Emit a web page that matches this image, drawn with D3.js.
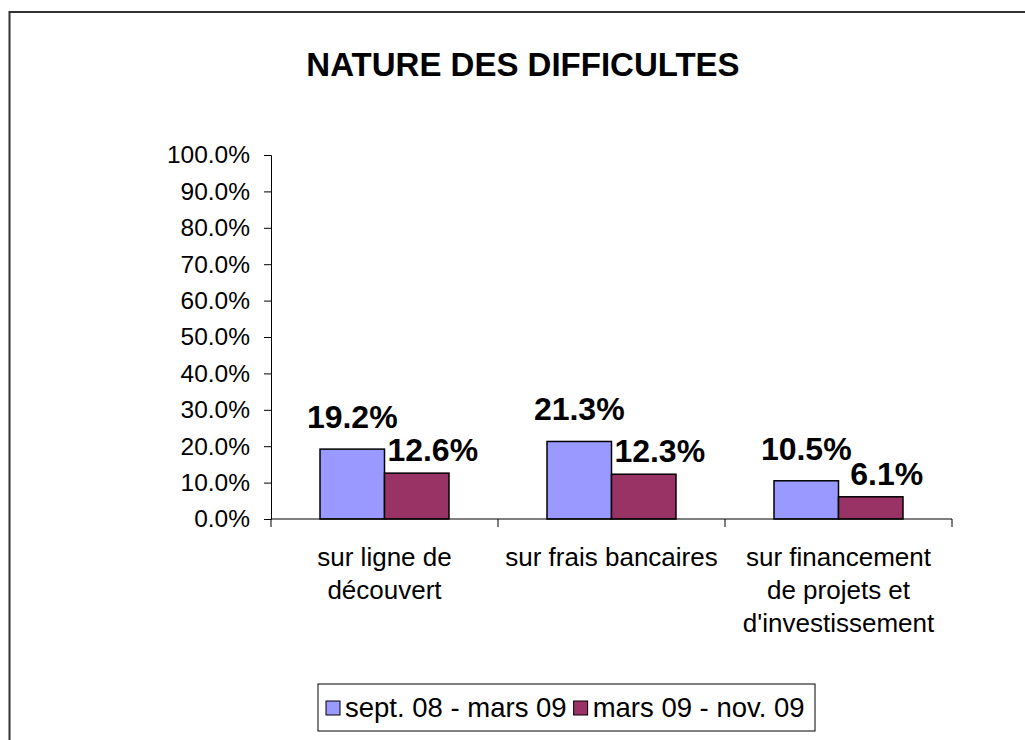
<!DOCTYPE html>
<html>
<head>
<meta charset="utf-8">
<script src="https://cdn.jsdelivr.net/npm/d3@7"></script>
<style>
  html, body { margin: 0; padding: 0; background: #fff; }
  svg { display: block; }
  text { font-family: "Liberation Sans", Arial, sans-serif; fill: #000; }
</style>
</head>
<body>
<script>
const title = "NATURE DES DIFFICULTES";
const categories = [
  ["sur ligne de", "découvert"],
  ["sur frais bancaires"],
  ["sur financement", "de projets et", "d'investissement"]
];
const seriesNames = ["sept. 08 - mars 09", "mars 09 - nov. 09"];
const seriesA = [0.192, 0.213, 0.105];
const seriesB = [0.126, 0.123, 0.061];
const yTicks = [0, 0.1, 0.2, 0.3, 0.4, 0.5, 0.6, 0.7, 0.8, 0.9, 1.0];
const colors = ["#9999FF", "#993366"];

const W = 1025, H = 740;
const svg = d3.select("body").append("svg").attr("width", W).attr("height", H);

// outer frame (extends past right/bottom)
svg.append("rect").attr("x", 9.5).attr("y", 12).attr("width", W + 20).attr("height", H + 20)
  .attr("fill", "none").attr("stroke", "#333").attr("stroke-width", 2);

svg.append("text").attr("x", 523).attr("y", 76).attr("text-anchor", "middle")
  .attr("font-weight", "bold").attr("font-size", 33).text(title);

const pLeft = 271, pRight = 952, pTop = 155, pBottom = 519;
const idx = categories.map((d, i) => i);
const x0 = d3.scaleBand().domain(idx).range([pLeft, pRight]).padding(0);
const x1 = d3.scaleBand().domain([0, 1]).range([0, x0.bandwidth()]).paddingInner(0).paddingOuter(0.76);
const y = d3.scaleLinear().domain([0, 1]).range([pBottom, pTop]);

// y axis
const yAxis = d3.axisLeft(y).tickValues(yTicks).tickFormat(d3.format(".1%")).tickSizeOuter(0).tickSize(7).tickPadding(14);
const gy = svg.append("g").attr("transform", `translate(${pLeft},0)`).call(yAxis);
gy.selectAll("text").attr("font-size", 24.5).style("font-family", '"Liberation Sans", Arial, sans-serif');
gy.selectAll("line,path").attr("stroke", "#000");

// bars
const series = [seriesA, seriesB];
series.forEach((vals, s) => {
  svg.append("g").selectAll("rect").data(vals).join("rect")
    .attr("x", (d, i) => x0(i) + x1(s))
    .attr("y", d => y(d))
    .attr("width", x1.bandwidth())
    .attr("height", d => y(0) - y(d))
    .attr("fill", colors[s]).attr("stroke", "#000").attr("stroke-width", 1.5);
});

// x axis
svg.append("line").attr("x1", pLeft).attr("x2", pRight).attr("y1", pBottom).attr("y2", pBottom)
  .attr("stroke", "#000").attr("stroke-width", 1.2);
const xt = idx.map(i => x0(i)).concat([x0(idx[idx.length - 1]) + x0.bandwidth()]);
svg.append("g").selectAll("line").data(xt).join("line")
  .attr("x1", d => d).attr("x2", d => d).attr("y1", pBottom).attr("y2", pBottom + 8)
  .attr("stroke", "#000");

// category labels
categories.forEach((lines, i) => {
  const t = svg.append("text").attr("text-anchor", "middle").attr("font-size", 26);
  lines.forEach((ln, k) => {
    t.append("tspan").attr("x", x0(i) + x0.bandwidth() / 2).attr("y", 566 + k * 33).text(ln);
  });
});

// data labels
const fmt = d3.format(".1%");
const labelOff = [21, 12];
const labelDx = [0, 16];
series.forEach((vals, s) => {
  svg.append("g").selectAll("text").data(vals).join("text")
    .attr("x", (d, i) => x0(i) + x1(s) + x1.bandwidth() / 2 + labelDx[s])
    .attr("y", d => y(d) - labelOff[s])
    .attr("text-anchor", "middle").attr("font-weight", "bold").attr("font-size", 32)
    .text(d => fmt(d));
});

// legend
const lg = svg.append("g").attr("transform", "translate(318,684)");
lg.append("rect").attr("x", 0).attr("y", 0).attr("width", 497).attr("height", 47)
  .attr("fill", "#fff").attr("stroke", "#000").attr("stroke-width", 1);
let lx = 8;
seriesNames.forEach((name, s) => {
  lg.append("rect").attr("x", lx).attr("y", 17).attr("width", 14).attr("height", 14)
    .attr("fill", colors[s]).attr("stroke", "#000").attr("stroke-width", 1);
  const t = lg.append("text").attr("x", lx + 19).attr("y", 33).attr("font-size", 27.5).text(name);
  lx += 19 + t.node().getComputedTextLength() + 7;
});
</script>
</body>
</html>
